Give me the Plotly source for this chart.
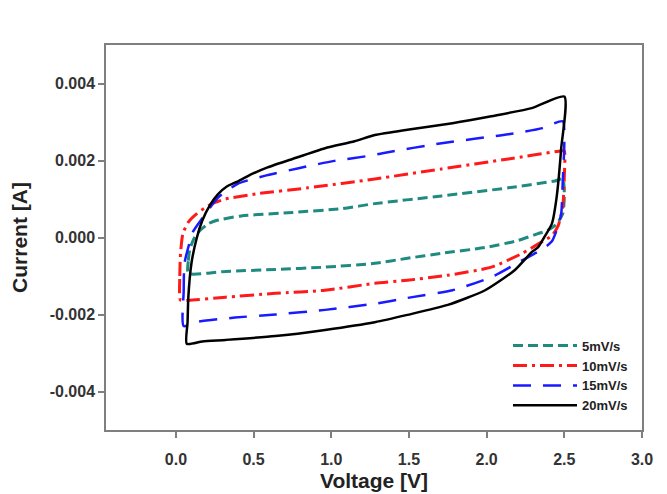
import plotly.graph_objects as go

# ---- data (voltage in V, current in mA -> converted to A) ----
series_names = ["5mV/s", "10mV/s", "15mV/s", "20mV/s"]

v_5 = [0.08, 0.08, 0.09, 0.12, 0.155, 0.21, 0.26, 0.42, 0.75, 1.07, 1.28, 1.71, 2.14, 2.44, 2.49,
       2.50, 2.49, 2.45, 2.39, 2.33, 2.20, 1.99, 1.71, 1.49, 1.28, 0.96, 0.64, 0.32, 0.08]
i_5 = [-0.93, -0.6, -0.3, 0.0, 0.18, 0.36, 0.44, 0.56, 0.65, 0.75, 0.88, 1.08, 1.29, 1.47, 1.52,
       1.1, 0.62, 0.35, 0.18, 0.1, -0.08, -0.26, -0.41, -0.54, -0.67, -0.77, -0.83, -0.88, -0.93]

v_10 = [0.03, 0.025, 0.03, 0.045, 0.08, 0.135, 0.22, 0.32, 0.53, 0.85, 1.28, 1.71, 2.14, 2.48,
        2.50, 2.50, 2.49, 2.46, 2.42, 2.36, 2.23, 2.03, 1.75, 1.49, 1.28, 0.96, 0.64, 0.32, 0.08, 0.03]
i_10 = [-1.63, -1.0, -0.4, 0.1, 0.4, 0.62, 0.85, 1.0, 1.14, 1.29, 1.52, 1.78, 2.04, 2.25,
        2.25, 1.6, 0.8, 0.3, 0.05, -0.1, -0.41, -0.77, -0.98, -1.11, -1.19, -1.37, -1.45, -1.55, -1.63, -1.63]

v_15 = [0.05, 0.05, 0.055, 0.08, 0.11, 0.17, 0.27, 0.40, 0.57, 0.79, 1.02, 1.24, 1.33, 1.71, 2.14,
        2.36, 2.49, 2.50, 2.49, 2.48, 2.46, 2.42, 2.36, 2.23, 2.03, 1.78, 1.49, 1.28, 0.96, 0.64,
        0.38, 0.14, 0.05]
i_15 = [-2.3, -1.4, -0.67, -0.25, 0.15, 0.5, 1.03, 1.4, 1.6, 1.8, 1.99, 2.12, 2.19, 2.45, 2.68,
        2.84, 3.02, 2.5, 1.47, 0.62, 0.3, -0.1, -0.3, -0.59, -1.03, -1.37, -1.57, -1.72, -1.88, -2.0,
        -2.08, -2.19, -2.3]

v_20 = [0.07, 0.075, 0.08, 0.10, 0.135, 0.17, 0.22, 0.27, 0.33, 0.40, 0.49, 0.59, 0.75, 0.96, 1.15,
        1.28, 1.49, 1.78, 2.03, 2.29, 2.50, 2.48, 2.45, 2.42, 2.37, 2.33, 2.29, 2.18, 1.99, 1.75,
        1.49, 1.28, 0.96, 0.64, 0.32, 0.17, 0.07]
i_20 = [-2.76, -2.2, -1.55, -0.67, 0.0, 0.44, 0.85, 1.12, 1.33, 1.46, 1.65, 1.82, 2.04, 2.32, 2.5,
        2.66, 2.8, 2.97, 3.15, 3.36, 3.66, 2.32, 1.03, 0.36, 0.0, -0.26, -0.38, -0.85, -1.37, -1.75,
        -2.01, -2.2, -2.4, -2.56, -2.66, -2.70, -2.76]

x_tickvals = [0.0, 0.5, 1.0, 1.5, 2.0, 2.5, 3.0]
x_ticktext = ["0.0", "0.5", "1.0", "1.5", "2.0", "2.5", "3.0"]
y_tickvals = [0.004, 0.002, 0.0, -0.002, -0.004]
y_ticktext = ["0.004", "0.002", "0.000", "-0.002", "-0.004"]
x_title = "Voltage [V]"
y_title = "Current [A]"

volts = [v_5, v_10, v_15, v_20]
currents = [i_5, i_10, i_15, i_20]
colors = ["#1f8a80", "#ff1a1a", "#1a1aff", "#000000"]
dashes = ["10px,5px", "14px,5px,3px,5px", "18px,12px", "solid"]
widths = [3, 3, 2.5, 2.5]

fig = go.Figure()
for name, v, i, c, d, w in zip(series_names, volts, currents, colors, dashes, widths):
    fig.add_trace(go.Scatter(
        x=v, y=[val / 1000.0 for val in i], mode="lines", name="<b>" + name + "</b>",
        line=dict(color=c, dash=d, width=w, shape="spline", smoothing=0.6),
    ))

axis_font = dict(family="Liberation Sans, Arial, sans-serif", size=16, color="#333333")
title_font = dict(family="Liberation Sans, Arial, sans-serif", size=21, color="#222222")

fig.update_layout(
    width=667, height=494,
    margin=dict(l=106, r=25, t=45, b=64),
    paper_bgcolor="white", plot_bgcolor="white",
    font=dict(family="Liberation Sans, Arial, sans-serif"),
    showlegend=True,
    legend=dict(
        x=0.75, y=0.258, xanchor="left", yanchor="top",
        bgcolor="rgba(0,0,0,0)", borderwidth=0,
        font=dict(family="Liberation Sans Narrow, Liberation Sans, Arial", size=13, color="#222222"),
        itemwidth=64, tracegroupgap=0,
    ),
    annotations=[dict(
        text="<b>" + x_title + "</b>", xref="paper", yref="paper", x=0.5, y=0,
        xanchor="center", yanchor="bottom", yshift=-64, showarrow=False, font=title_font,
    )],
)
fig.update_xaxes(
    range=[-0.45, 3.0], tickvals=x_tickvals, ticktext=["<b>" + t + "</b>" for t in x_ticktext],
    showgrid=False, zeroline=False, showline=True, mirror=True, automargin=False,
    linecolor="#7f7f7f", linewidth=1.5, ticks="outside", ticklen=6, tickcolor="#7f7f7f",
    tickwidth=1.5, tickfont=axis_font, ticklabelstandoff=8,
)
fig.update_yaxes(
    range=[-0.005, 0.005], tickvals=y_tickvals, ticktext=["<b>" + t + "</b>" for t in y_ticktext],
    showgrid=False, zeroline=False, showline=True, mirror=True, automargin=False,
    linecolor="#7f7f7f", linewidth=1.5, ticks="outside", ticklen=6, tickcolor="#7f7f7f",
    tickwidth=1.5, tickfont=axis_font,
    title=dict(text="<b>" + y_title + "</b>", font=title_font, standoff=16),
)

fig.write_html("out.html")
